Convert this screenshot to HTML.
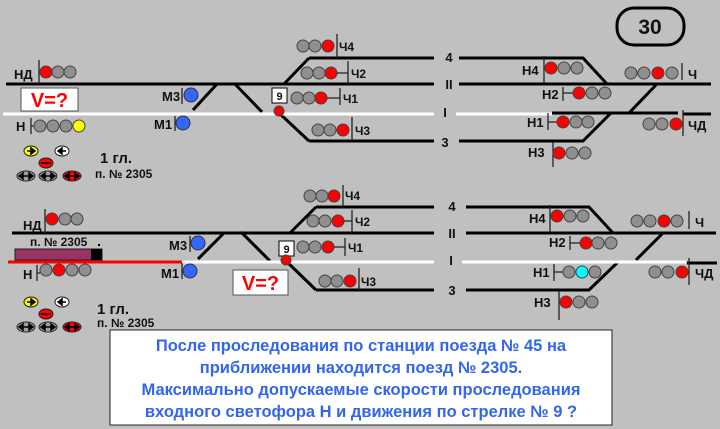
<!DOCTYPE html>
<html><head><meta charset="utf-8"><style>
body{margin:0;background:#c0c0c0;width:720px;height:429px;overflow:hidden}
svg{display:block}
text{font-family:"Liberation Sans",sans-serif;font-weight:bold;fill:#111}
.g{fill:#8f8f8f;stroke:#444;stroke-width:1}
.r{fill:#f00;stroke:#444;stroke-width:1}
.t{stroke:#000;stroke-width:3;fill:none}
.b{stroke:#222;stroke-width:1.3}
.ar{stroke:#000;stroke-width:1.5;fill:#000}
</style></head><body>
<svg width="720" height="429" viewBox="0 0 720 429">
<defs>
<g id="lg">
<ellipse cx="31" cy="151" rx="7" ry="5" fill="#ff0" stroke="#222"/><path class="ar" d="M27 151H34M31 148L35 151L31 154Z"/>
<ellipse cx="62" cy="151" rx="7" ry="5" fill="#fff" stroke="#222"/><path class="ar" d="M59 151H66M62 148L58 151L62 154Z"/>
<ellipse cx="46" cy="163" rx="7" ry="5" fill="#f00" stroke="#222"/><path d="M41 163H51" stroke="#000" stroke-width="1.5"/>
<ellipse cx="26" cy="176" rx="9" ry="5" fill="#a0a0a0" stroke="#222"/><path class="ar" d="M20 176H32M23 173L19 176L23 179ZM29 173L33 176L29 179Z"/>
<ellipse cx="48" cy="176" rx="9" ry="5" fill="#a0a0a0" stroke="#222"/><path class="ar" d="M42 176H54M45 173L41 176L45 179ZM51 173L55 176L51 179Z"/>
<ellipse cx="72" cy="176" rx="9" ry="5" fill="#f00" stroke="#222"/><path class="ar" d="M66 176H78M69 173L65 176L69 179ZM75 173L79 176L75 179Z"/>
</g>
</defs>
<rect x="617" y="8" width="67" height="37" rx="17" fill="none" stroke="#000" stroke-width="3"/>
<text x="650" y="34" font-size="21" text-anchor="middle">30</text>

<g class="t">
<path d="M6 84H434M459 84H711"/>
<path d="M309 58H434M459 58H583L607 84"/>
<path d="M309 141H434M459 141H583L611 113"/>
<path d="M552 113H678M683 114H711"/>
<path d="M284 84L309 58M278 112L309 141M193 110L217 84M234 83L262 112M629 113L656 85"/>
</g>
<path d="M3 114H434M456 114H552" stroke="#fff" stroke-width="3"/>
<text x="449" y="62" font-size="13" text-anchor="middle">4</text>
<text x="449" y="89" font-size="13" text-anchor="middle">II</text>
<text x="445" y="117" font-size="13" text-anchor="middle">I</text>
<text x="445" y="147" font-size="13" text-anchor="middle">3</text>

<text x="14" y="79" font-size="13">НД</text><path class="b" d="M39 60V84"/>
<circle class="r" cx="46" cy="72" r="6"/><circle class="g" cx="58" cy="72" r="6"/><circle class="g" cx="70" cy="72" r="6"/>
<rect x="21" y="88" width="57" height="23" fill="#fff" stroke="#555"/>
<text x="49.5" y="107" font-size="20" text-anchor="middle" style="fill:#f00">V=?</text>
<text x="16" y="131" font-size="13">Н</text><path class="b" d="M31 118V134M31 126H34"/>
<circle class="g" cx="40" cy="126" r="6"/><circle class="g" cx="53" cy="126" r="6"/><circle class="g" cx="66" cy="126" r="6"/><circle cx="79" cy="126" r="6" fill="#ff0" stroke="#444"/>
<text x="162" y="101" font-size="13">М3</text><path class="b" d="M182 88V104"/><circle cx="191" cy="95" r="7" fill="#3366ff" stroke="#333"/>
<text x="154" y="129" font-size="13">М1</text><path class="b" d="M175 116V131"/><circle cx="183" cy="123" r="7" fill="#3366ff" stroke="#333"/>
<rect x="272" y="88" width="15" height="15" fill="#fff" stroke="#000"/><text x="279.5" y="100" font-size="11" text-anchor="middle">9</text>
<circle class="r" cx="279" cy="111" r="5"/>
<circle class="g" cx="303" cy="46" r="6"/><circle class="g" cx="315" cy="46" r="6"/><circle class="r" cx="328" cy="46" r="6"/><path class="b" d="M337 34V58"/><text x="339" y="51" font-size="12">Ч4</text>
<circle class="g" cx="307" cy="73" r="6"/><circle class="g" cx="319" cy="73" r="6"/><circle class="r" cx="331" cy="73" r="6"/><path class="b" d="M337 73H348M348 61V84"/><text x="351" y="78" font-size="12">Ч2</text>
<circle class="g" cx="297" cy="98" r="6"/><circle class="g" cx="309" cy="98" r="6"/><circle class="r" cx="321" cy="98" r="6"/><path class="b" d="M327 98H340M340 88V105"/><text x="343" y="103" font-size="12">Ч1</text>
<circle class="g" cx="318" cy="130" r="6"/><circle class="g" cx="330" cy="130" r="6"/><circle class="r" cx="343" cy="130" r="6"/><path class="b" d="M352 117V141"/><text x="355" y="135" font-size="12">Ч3</text>
<text x="522" y="75" font-size="13">Н4</text><path class="b" d="M544 56V83"/>
<circle class="r" cx="551" cy="68" r="6"/><circle class="g" cx="564" cy="68" r="6"/><circle class="g" cx="577" cy="68" r="6"/>
<text x="542" y="99" font-size="13">Н2</text><path class="b" d="M563 87V101M563 93H573"/>
<circle class="r" cx="579" cy="93" r="6"/><circle class="g" cx="592" cy="93" r="6"/><circle class="g" cx="605" cy="93" r="6"/>
<text x="527" y="127" font-size="13">Н1</text><path class="b" d="M548 113V130M548 122H557"/>
<circle class="r" cx="563" cy="122" r="6"/><circle class="g" cx="576" cy="122" r="6"/><circle class="g" cx="588" cy="122" r="6"/>
<text x="528" y="157" font-size="13">Н3</text><path class="b" d="M553 142V167"/>
<circle class="r" cx="559" cy="153" r="6"/><circle class="g" cx="572" cy="153" r="6"/><circle class="g" cx="585" cy="153" r="6"/>
<circle class="g" cx="631" cy="73" r="6"/><circle class="g" cx="644" cy="73" r="6"/><circle class="r" cx="658" cy="73" r="6"/><circle class="g" cx="672" cy="73" r="6"/><path class="b" d="M682 63V80"/><text x="688" y="79" font-size="13">Ч</text>
<circle class="g" cx="649" cy="124" r="6"/><circle class="g" cx="662" cy="124" r="6"/><circle class="r" cx="676" cy="124" r="6"/><path class="b" d="M683 110V136"/><text x="688" y="130" font-size="13">ЧД</text>
<use href="#lg"/>
<text x="100" y="163" font-size="15">1 гл.</text><text x="95" y="178" font-size="12">п. № 2305</text>

<g class="t">
<path d="M12 233H434M466 233H716"/>
<path d="M316 207H434M466 207H589L613 233"/>
<path d="M316 290H434M466 290H589L618 262"/>
<path d="M687 263H717"/>
<path d="M290 233L316 207M285 260L316 290M198 259L224 233M241 232L270 261M636 260L663 233"/>
</g>
<path d="M182 262H434M462 262H686" stroke="#fff" stroke-width="3"/>
<path d="M8 262H182" stroke="#f00" stroke-width="3"/>
<text x="452" y="211" font-size="13" text-anchor="middle">4</text>
<text x="452" y="238" font-size="13" text-anchor="middle">II</text>
<text x="451" y="265" font-size="13" text-anchor="middle">I</text>
<text x="452" y="295" font-size="13" text-anchor="middle">3</text>
<text x="30" y="246" font-size="12">п. № 2305</text><rect x="98" y="244" width="2" height="2" fill="#000"/>
<rect x="15" y="249" width="87" height="11" fill="#993366" stroke="#222"/><rect x="91" y="249" width="11" height="11" fill="#000"/>
<text x="23" y="230" font-size="13">НД</text><path class="b" d="M45 209V233"/>
<circle class="r" cx="52" cy="219" r="6"/><circle class="g" cx="65" cy="219" r="6"/><circle class="g" cx="77" cy="219" r="6"/>
<text x="23" y="279" font-size="13">Н</text><path class="b" d="M37 265V281M37 273H40"/>
<circle class="g" cx="46" cy="270" r="6"/><circle class="r" cx="59" cy="270" r="6"/><circle class="g" cx="72" cy="270" r="6"/><circle class="g" cx="85" cy="270" r="6"/>
<text x="169" y="250" font-size="13">М3</text><path class="b" d="M190 236V252"/><circle cx="198" cy="243" r="7" fill="#3366ff" stroke="#333"/>
<text x="161" y="278" font-size="13">М1</text><path class="b" d="M182 263V279"/><circle cx="190" cy="271" r="7" fill="#3366ff" stroke="#333"/>
<rect x="279" y="241" width="15" height="15" fill="#fff" stroke="#000"/><text x="286.5" y="253" font-size="11" text-anchor="middle">9</text>
<circle class="r" cx="286" cy="260" r="5"/>
<rect x="233" y="270" width="55" height="25" fill="#fff" stroke="#555"/>
<text x="260.5" y="290" font-size="20" text-anchor="middle" style="fill:#f00">V=?</text>
<circle class="g" cx="310" cy="196" r="6"/><circle class="g" cx="322" cy="196" r="6"/><circle class="r" cx="334" cy="196" r="6"/><path class="b" d="M343 185V206"/><text x="345" y="200" font-size="12">Ч4</text>
<circle class="g" cx="313" cy="221" r="6"/><circle class="g" cx="325" cy="221" r="6"/><circle class="r" cx="338" cy="221" r="6"/><path class="b" d="M344 221H352M352 210V233"/><text x="355" y="226" font-size="12">Ч2</text>
<circle class="g" cx="303" cy="247" r="6"/><circle class="g" cx="315" cy="247" r="6"/><circle class="r" cx="328" cy="247" r="6"/><path class="b" d="M334 247H345M345 238V256"/><text x="348" y="252" font-size="12">Ч1</text>
<circle class="g" cx="325" cy="281" r="6"/><circle class="g" cx="337" cy="281" r="6"/><circle class="r" cx="350" cy="281" r="6"/><path class="b" d="M359 268V290"/><text x="361" y="286" font-size="12">Ч3</text>
<text x="529" y="223" font-size="13">Н4</text><path class="b" d="M550 205V232"/>
<circle class="r" cx="557" cy="216" r="6"/><circle class="g" cx="570" cy="216" r="6"/><circle class="g" cx="583" cy="216" r="6"/>
<text x="549" y="247" font-size="13">Н2</text><path class="b" d="M570 236V250M570 243H580"/>
<circle class="r" cx="586" cy="243" r="6"/><circle class="g" cx="598" cy="243" r="6"/><circle class="g" cx="611" cy="243" r="6"/>
<text x="533" y="277" font-size="13">Н1</text><path class="b" d="M554 264V281M554 272H563"/>
<circle class="g" cx="569" cy="272" r="6"/><circle cx="582" cy="272" r="6" fill="#0ff" stroke="#444"/><circle class="g" cx="595" cy="272" r="6"/>
<text x="534" y="307" font-size="13">Н3</text><path class="b" d="M559 291V320"/>
<circle class="r" cx="566" cy="302" r="6"/><circle class="g" cx="579" cy="302" r="6"/><circle class="g" cx="592" cy="302" r="6"/>
<circle class="g" cx="637" cy="221" r="6"/><circle class="g" cx="650" cy="221" r="6"/><circle class="r" cx="664" cy="221" r="6"/><circle class="g" cx="677" cy="221" r="6"/><path class="b" d="M689 211V229"/><text x="695" y="227" font-size="13">Ч</text>
<circle class="g" cx="655" cy="272" r="6"/><circle class="g" cx="668" cy="272" r="6"/><circle class="r" cx="682" cy="272" r="6"/><path class="b" d="M689 258V285"/><text x="695" y="278" font-size="13">ЧД</text>
<use href="#lg" transform="translate(0,151)"/>
<text x="97" y="314" font-size="15">1 гл.</text><text x="97" y="327" font-size="12">п. № 2305</text>

<rect x="110" y="330" width="502" height="95" fill="#fff" stroke="#222"/>
<g font-size="16.5" text-anchor="middle">
<text x="361" y="351" style="fill:#3366ee">После проследования по станции поезда № 45 на</text>
<text x="361" y="373" style="fill:#3366ee">приближении находится поезд № 2305.</text>
<text x="361" y="395" style="fill:#3366ee">Максимально допускаемые скорости проследования</text>
<text x="361" y="417" style="fill:#3366ee">входного светофора Н и движения по стрелке № 9 ?</text>
</g>
</svg>
</body></html>
